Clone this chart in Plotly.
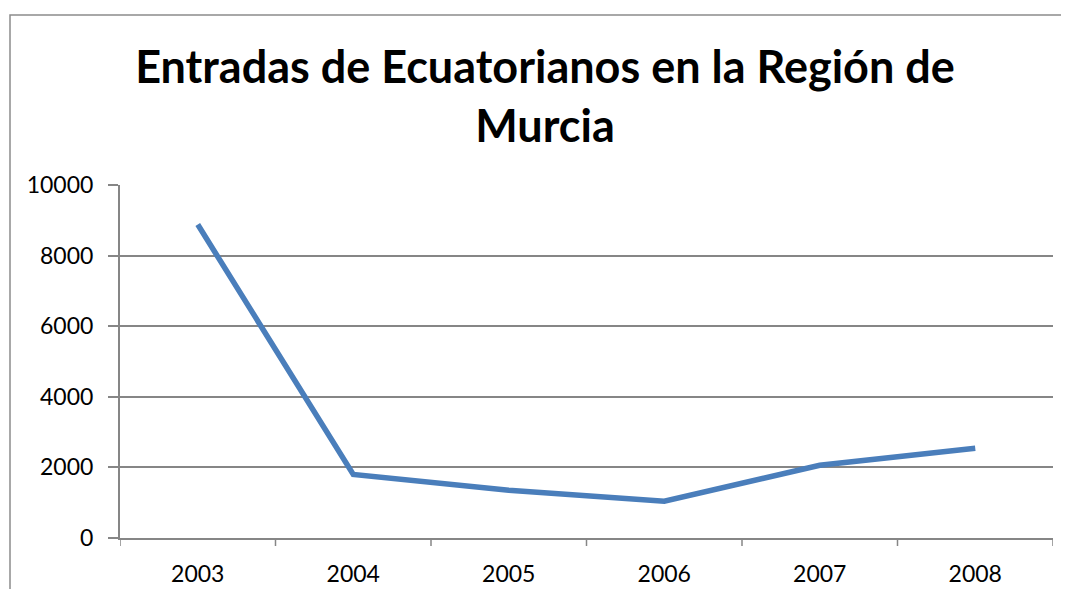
import plotly.graph_objects as go

# Entradas de ecuatorianos por año
years = ['2003', '2004', '2005', '2006', '2007', '2008']
entradas = [8880, 1800, 1350, 1040, 2060, 2540]
y_ticks = [0, 2000, 4000, 6000, 8000, 10000]
y_labels = ['0', '2000', '4000', '6000', '8000', '10000']

# the page has an 8px body margin, so the figure is drawn from (8, 8)
OFF = 8
W, H = 1069 - 2 * OFF, 597 - 2 * OFF
L, T = 120 - OFF, 185 - OFF
R = W - (1053 - OFF)
B = H - (538 - OFF)
pw, ph = W - L - R, H - T - B

fig = go.Figure(go.Scatter(
    x=years, y=entradas, mode='lines',
    line=dict(color='#4A7EBB', width=5.5),
    hoverinfo='x+y',
))

fig.update_layout(
    width=W, height=H,
    margin=dict(l=L, r=R, t=T, b=B, autoexpand=False),
    paper_bgcolor='white', plot_bgcolor='white',
    font=dict(family='Lato', size=23, color='black'),
    showlegend=False,
    title=dict(
        text='<b>Entradas de Ecuatorianos en la Región de<br>Murcia</b>',
        font=dict(family='Lato', size=45, color='black'),
        xref='container', yref='container',
        x=(545 - OFF) / W, y=1 - 75 / H, xanchor='center', yanchor='middle',
    ),
)

fig.update_xaxes(
    type='category', range=[-0.5, 5.5], automargin=False,
    showgrid=False, showline=True, linecolor='#868686', linewidth=2,
    ticks='', ticklabelstandoff=14,
)
fig.update_yaxes(
    range=[0, 10000], tickvals=y_ticks, ticktext=y_labels, automargin=False,
    showgrid=True, gridcolor='#868686', gridwidth=1.5,
    showline=True, linecolor='#868686', linewidth=2,
    ticks='outside', ticklen=10, tickcolor='#868686', tickwidth=1.5,
    zeroline=False, ticklabelstandoff=10,
)

# tick marks between categories, as in the original
for i in range(7):
    fig.add_shape(type='line', xref='x', yref='paper',
                  x0=i - 0.5, x1=i - 0.5, y0=0, y1=-8 / ph,
                  line=dict(color='#868686', width=1.5))

# chart border (top and left visible)
fig.add_shape(type='rect', xref='paper', yref='paper',
              x0=(10 - 120) / pw, x1=(1100 - 120) / pw,
              y0=-80 / ph, y1=(538 - 15) / ph,
              line=dict(color='#8C8C8C', width=1.5), layer='below')

fig.write_html('out.html')
